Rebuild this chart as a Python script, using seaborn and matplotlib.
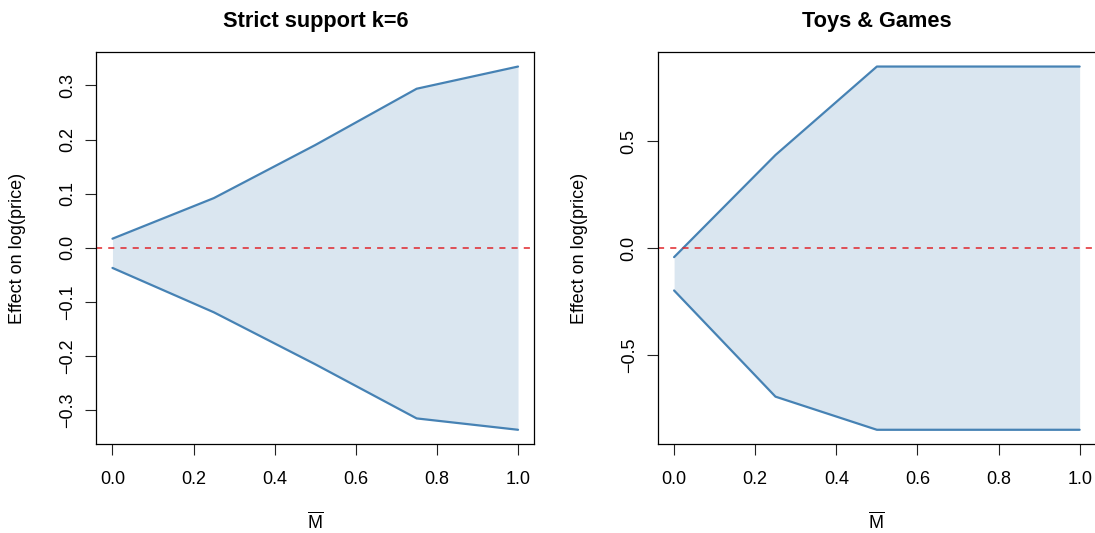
import numpy as np
import seaborn as sns
import matplotlib
matplotlib.use("Agg")
import matplotlib.pyplot as plt

# values
m_bar = [0.0, 0.25, 0.5, 0.75, 1.0]

strict_upper = [0.017, 0.092, 0.19, 0.294, 0.335]
strict_lower = [-0.037, -0.119, -0.215, -0.315, -0.336]

toys_upper = [-0.042, 0.436, 0.85, 0.85, 0.85]
toys_lower = [-0.198, -0.695, -0.85, -0.85, -0.85]

titles = ["Strict support k=6", "Toys & Games"]
y_ticks = [[-0.3, -0.2, -0.1, 0.0, 0.1, 0.2, 0.3], [-0.5, 0.0, 0.5]]
x_ticks = [0.0, 0.2, 0.4, 0.6, 0.8, 1.0]

sns.set_style("white")
plt.rcParams["font.family"] = ["Liberation Sans", "DejaVu Sans"]
plt.rcParams["mathtext.fontset"] = "custom"
plt.rcParams["mathtext.rm"] = "Liberation Sans"
for key in ["text.color", "axes.labelcolor", "xtick.color", "ytick.color",
            "xtick.labelcolor", "ytick.labelcolor"]:
    plt.rcParams[key] = "black"

line_col = "#4682B4"
fill_col = "#DAE6F0"
red = "#E0262B"

fig = plt.figure(figsize=(10.95, 5.33), dpi=100)
axes = [fig.add_axes([0.0879, 0.1664, 0.400, 0.736]),
        fig.add_axes([0.6008, 0.1664, 0.400, 0.736])]

panels = [(strict_upper, strict_lower), (toys_upper, toys_lower)]

for ax, (up, lo), title, yt in zip(axes, panels, titles, y_ticks):
    ax.fill_between(m_bar, lo, up, color=fill_col, lw=0)
    sns.lineplot(x=m_bar, y=up, ax=ax, color=line_col, lw=1.6)
    sns.lineplot(x=m_bar, y=lo, ax=ax, color=line_col, lw=1.6)
    ax.axhline(0, color=red, ls=(0, (4, 4)), lw=1.1)

    # R-style 4% padding
    ymin, ymax = min(lo), max(up)
    rng = ymax - ymin
    ax.set_xlim(-0.04, 1.04)
    ax.set_ylim(ymin - 0.04 * rng, ymax + 0.04 * rng)

    ax.set_xticks(x_ticks)
    ax.set_xticklabels([f"{t:.1f}" for t in x_ticks])
    ax.set_yticks(yt)
    ax.set_yticklabels([f"{t:.1f}".replace("-", "\u2212") for t in yt],
                       rotation=90, va="center")
    ax.tick_params(axis="both", direction="out", length=8, width=0.8,
                   labelsize=13, color="#222222", labelcolor="black")
    ax.tick_params(axis="x", pad=11, bottom=True)
    ax.tick_params(axis="y", pad=6.5, left=True)

    for s in ax.spines.values():
        s.set_color("black")
        s.set_linewidth(0.9)

    ax.set_title(title, fontsize=15.7, fontweight="bold", pad=18, color="black")
    ax.set_xlabel(r"$\overline{\mathrm{M}}$", fontsize=13, va="center")
    ax.xaxis.set_label_coords(0.5, -0.198)
    ax.set_ylabel("Effect on log(price)", fontsize=13, va="center")
    ax.yaxis.set_label_coords(-0.18, 0.5)

fig.savefig("out.png", dpi=100)
